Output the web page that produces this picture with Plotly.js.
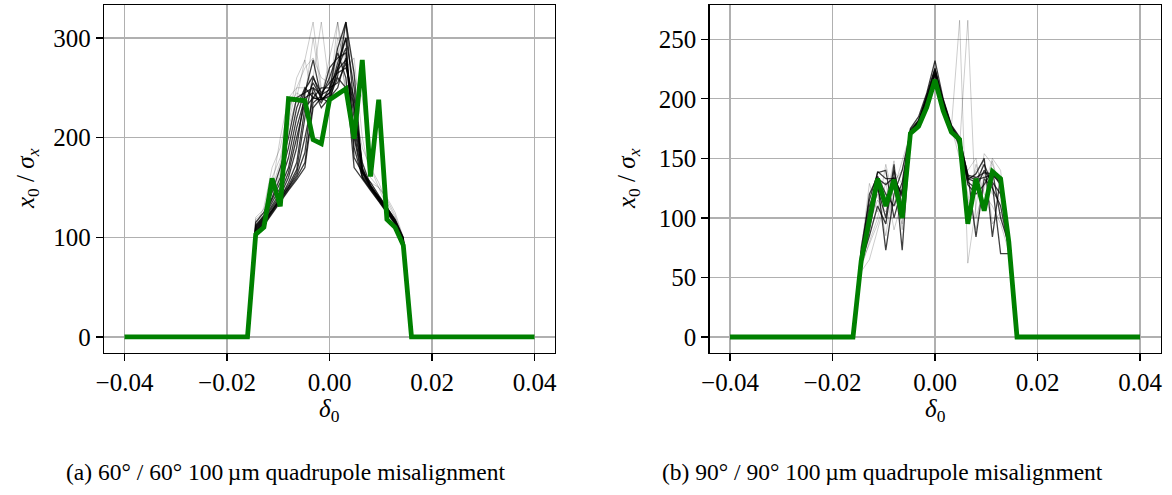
<!DOCTYPE html>
<html>
<head>
<meta charset="utf-8">
<script src="https://cdn.plot.ly/plotly-3.0.1.min.js"></script>
<style>html,body{margin:0;padding:0;background:#fff;}#chart{width:1172px;height:495px;}</style>
</head>
<body>
<div id="chart"></div>
<script>
// Full delta grid (51 points)
const delta = [-0.04,-0.0384,-0.0368,-0.0352,-0.0336,-0.032,-0.0304,-0.0288,-0.0272,-0.0256,
  -0.024,-0.0224,-0.0208,-0.0192,-0.0176,-0.016,-0.0144,-0.0128,-0.0112,-0.0096,
  -0.008,-0.0064,-0.0048,-0.0032,-0.0016,0,0.0016,0.0032,0.0048,0.0064,
  0.008,0.0096,0.0112,0.0128,0.0144,0.016,0.0176,0.0192,0.0208,0.0224,
  0.024,0.0256,0.0272,0.0288,0.0304,0.032,0.0336,0.0352,0.0368,0.0384,0.04];
// Core grid where individual runs are non-zero (-0.016 .. 0.016)
const deltaCore = [-0.016,-0.0144,-0.0128,-0.0112,-0.0096,-0.008,-0.0064,-0.0048,-0.0032,-0.0016,
  0,0.0016,0.0032,0.0048,0.0064,0.008,0.0096,0.0112,0.0128,0.0144,0.016];

// (a) 60/60 : reference (green) run
const greenA = [0,0,0,0,0,0,0,0,0,0,0,0,0,0,0,
  0,103,110,159,131,239,238,237,198,194,238,244,249,199,278,161,238,118,110,92,0,
  0,0,0,0,0,0,0,0,0,0,0,0,0,0,0];
// (a) individual misalignment seeds (dark)
const runsA_dark = [
  [0,105,115,126,138,150,165,200,240,238,245,262,316,230,166,152,140,128,116,98,0],
  [0,108,118,130,142,160,190,245,278,240,240,250,280,220,165,150,139,127,115,96,0],
  [0,110,120,135,150,170,210,240,245,235,250,270,290,200,160,148,137,126,114,95,0],
  [0,104,113,125,136,148,160,175,235,242,260,285,260,170,158,147,136,125,113,94,0],
  [0,112,122,140,160,190,230,250,240,238,245,275,300,180,165,155,142,130,118,100,0],
  [0,106,116,128,140,152,168,220,260,245,255,265,270,240,170,150,138,127,115,97,0],
  [0,115,125,145,170,200,240,245,250,230,240,260,250,210,168,152,140,128,116,96,0],
  [0,103,112,124,135,147,158,170,230,240,270,280,285,190,160,149,138,126,114,95,0],
  [0,107,117,127,139,155,175,230,240,250,250,255,275,230,175,152,139,128,116,97,0],
  [0,109,119,132,145,165,200,235,255,240,235,270,300,250,165,150,140,129,117,98,0],
  [0,105,114,126,137,149,162,185,250,243,248,290,316,265,168,151,139,127,115,96,0],
  [0,111,121,138,155,180,220,248,262,238,242,268,278,205,162,150,141,130,117,99,0]
];
// (a) individual seeds (faint)
const runsA_faint = [
  [0,118,125,160,180,220,260,278,316,250,240,316,240,200,170,155,142,130,118,100,0],
  [0,105,120,150,200,240,250,250,260,316,250,280,316,260,240,170,150,130,118,98,0],
  [0,110,118,140,165,210,240,278,240,240,280,316,270,280,200,160,150,140,125,100,0],
  [0,112,130,170,190,230,245,240,300,245,230,300,280,230,190,170,155,135,120,98,0],
  [0,120,128,150,175,215,250,270,280,260,255,290,250,240,160,155,150,138,122,99,0]
];

// (b) 90/90 : reference (green) run
const greenB = [0,0,0,0,0,0,0,0,0,0,0,0,0,0,0,
  0,64,98,133,110,132,100,171,177,193,216,190,172,166,95,133,106,139,133,80,0,
  0,0,0,0,0,0,0,0,0,0,0,0,0,0,0];
const runsB_dark = [
  [0,65,100,139,133,133,120,175,185,205,232,200,178,168,135,132,134,136,130,85,0],
  [0,70,110,130,73,120,140,172,180,200,222,196,176,165,130,125,140,130,120,80,0],
  [0,60,90,125,100,145,73,170,178,198,220,195,175,162,137,84,133,125,110,75,0],
  [0,68,120,135,120,110,130,174,182,202,225,198,177,160,132,137,150,84,135,82,0],
  [0,62,85,110,95,140,110,171,180,200,221,195,175,163,128,120,128,140,100,78,0],
  [0,75,115,138,140,100,125,173,181,203,226,197,176,166,133,130,145,128,70,70,0],
  [0,66,104,133,128,134,118,172,182,201,224,199,177,167,136,134,138,137,128,84,0]
];
const runsB_faint = [
  [0,55,65,90,115,148,90,170,178,199,220,195,176,266,62,110,154,145,125,88,0],
  [0,72,105,120,85,130,140,172,180,200,222,196,175,160,266,100,125,150,140,76,0],
  [0,58,80,100,130,90,115,170,179,201,223,197,176,150,110,145,120,110,95,72,0],
  [0,66,95,115,105,125,148,171,180,199,221,196,175,158,120,90,138,120,115,80,0],
  [0,73,129,105,145,115,95,172,181,200,222,196,175,162,140,150,110,148,122,86,0],
  [0,61,78,95,118,140,128,171,179,199,220,195,175,164,100,140,148,95,105,74,0]
];

const yTicksA = [0,100,200,300];
const yTicksB = [0,50,100,150,200,250];
const xTicks = [-0.04,-0.02,0,0.02,0.04];
const captionA = "(a) 60° / 60° 100\u2009µm quadrupole misalignment";
const captionB = "(b) 90° / 90° 100\u2009µm quadrupole misalignment";

const traces = [];
function addRuns(runs, xa, ya, color, w) {
  runs.forEach(r => traces.push({x: deltaCore, y: r, xaxis: xa, yaxis: ya, type: 'scatter',
    mode: 'lines', line: {color: color, width: w}, hoverinfo: 'skip', showlegend: false}));
}
addRuns(runsA_faint, 'x', 'y', 'rgba(0,0,0,0.2)', 1);
addRuns(runsA_dark, 'x', 'y', 'rgba(0,0,0,0.75)', 1.3);
traces.push({x: delta, y: greenA, xaxis: 'x', yaxis: 'y', type: 'scatter', mode: 'lines',
  line: {color: '#008000', width: 4.8}, showlegend: false});
addRuns(runsB_faint, 'x2', 'y2', 'rgba(0,0,0,0.2)', 1);
addRuns(runsB_dark, 'x2', 'y2', 'rgba(0,0,0,0.75)', 1.3);
traces.push({x: delta, y: greenB, xaxis: 'x2', yaxis: 'y2', type: 'scatter', mode: 'lines',
  line: {color: '#008000', width: 4.8}, showlegend: false});

const W = 1172, H = 495;
const FAM = '"Liberation Serif", "DejaVu Serif", "Times New Roman", serif';
const tickFont = {family: FAM, size: 25, color: '#000'};
const ydom = [1 - 352.5 / H, 1 - 5 / H];
function xax(dom, anchor) {
  return {domain: dom, anchor: anchor, range: [-0.044, 0.044], tickvals: xTicks, tickformat: '.2f',
    showgrid: true, gridcolor: '#b0b0b0', gridwidth: 1.3, zeroline: false,
    showline: true, mirror: true, linecolor: '#000', linewidth: 1.3,
    ticks: 'outside', ticklen: 7, tickwidth: 1.3, tickcolor: '#000', tickfont: tickFont};
}
function yax(range, vals, anchor) {
  return {domain: ydom, anchor: anchor, range: range, tickvals: vals,
    showgrid: true, gridcolor: '#b0b0b0', gridwidth: 1.3, zeroline: false,
    showline: true, mirror: true, linecolor: '#000', linewidth: 1.3,
    ticks: 'outside', ticklen: 7, tickwidth: 1.3, tickcolor: '#000', tickfont: tickFont};
}
const titleFont = {family: FAM, size: 25, color: '#000'};
const capFont = {family: FAM, size: 23.5, color: '#000'};
const ytitle = '<i>x</i><sub>0</sub> / <i>σ<sub>x</sub></i>';
const xtitle = '<i>δ</i><sub>0</sub>';
const layout = {
  width: W, height: H, margin: {l: 0, r: 0, t: 0, b: 0},
  font: {family: FAM, color: '#000'},
  paper_bgcolor: '#fff', plot_bgcolor: '#fff', showlegend: false,
  xaxis: xax([104 / W, 555 / W], 'y'),
  yaxis: yax([-15.6, 333.1], yTicksA, 'x'),
  xaxis2: xax([709.5 / W, 1160.5 / W], 'y2'),
  yaxis2: yax([-13, 278.8], yTicksB, 'x2'),
  annotations: [
    {xref: 'paper', yref: 'paper', x: 27 / W, y: 1 - 179 / H, text: ytitle, textangle: -90,
      showarrow: false, xanchor: 'center', yanchor: 'middle', font: titleFont},
    {xref: 'paper', yref: 'paper', x: 628 / W, y: 1 - 179 / H, text: ytitle, textangle: -90,
      showarrow: false, xanchor: 'center', yanchor: 'middle', font: titleFont},
    {xref: 'paper', yref: 'paper', x: 329.5 / W, y: 1 - 410 / H, text: xtitle,
      showarrow: false, xanchor: 'center', yanchor: 'middle', font: titleFont},
    {xref: 'paper', yref: 'paper', x: 935 / W, y: 1 - 410 / H, text: xtitle,
      showarrow: false, xanchor: 'center', yanchor: 'middle', font: titleFont},
    {xref: 'paper', yref: 'paper', x: 286 / W, y: 1 - 472 / H, text: captionA,
      showarrow: false, xanchor: 'center', yanchor: 'middle', font: capFont},
    {xref: 'paper', yref: 'paper', x: 882 / W, y: 1 - 472 / H, text: captionB,
      showarrow: false, xanchor: 'center', yanchor: 'middle', font: capFont}
  ]
};
Plotly.newPlot('chart', traces, layout, {staticPlot: true, displayModeBar: false});
</script>
</body>
</html>
